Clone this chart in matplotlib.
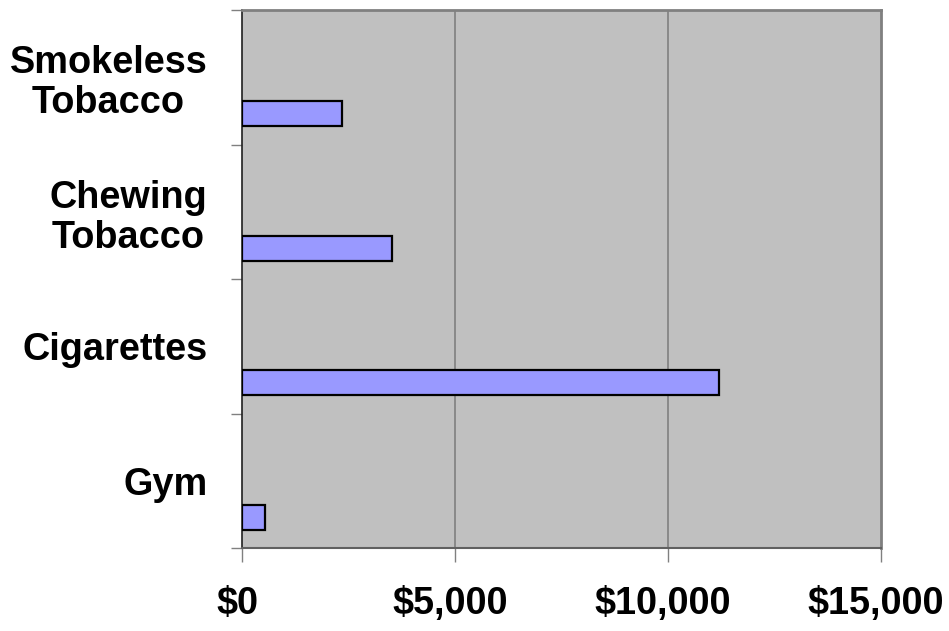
import matplotlib
matplotlib.use("Agg")
import matplotlib.pyplot as plt
import matplotlib.transforms as mtransforms
import numpy as np

categories = ["Gym", "Cigarettes", "Chewing\nTobacco", "Smokeless\nTobacco"]
costs = [540, 11200, 3520, 2350]
x_ticks = [0, 5000, 10000, 15000]
x_tick_labels = ["$0", "$5,000", "$10,000", "$15,000"]

plt.rcParams['font.family'] = ['Liberation Sans', 'DejaVu Sans']

fig = plt.figure(figsize=(9.49, 6.31), dpi=100)
ax = fig.add_axes([242/949, 1 - 548/631, (881-242)/949, (548-10)/631])
ax.set_facecolor('#C0C0C0')

pos = np.arange(len(categories))
ax.barh(pos - 0.273, costs, height=0.186, color='#9999FF', edgecolor='black',
        linewidth=1.6, zorder=3)

ax.set_xlim(0, 15000)
ax.set_ylim(-0.5, len(categories) - 0.5)

ax.set_xticks(x_ticks)
ax.set_xticklabels(x_tick_labels, fontsize=27.3, fontweight='bold')
ax.tick_params(axis='x', which='major', length=10, width=1, color='#808080',
               direction='out', pad=17.5)
shift = mtransforms.ScaledTranslation(-5/100, 0, fig.dpi_scale_trans)
for lbl in ax.get_xticklabels():
    lbl.set_transform(lbl.get_transform() + shift)

ax.set_yticks(np.arange(len(categories) + 1) - 0.5)
ax.set_yticklabels([])
ax.tick_params(axis='y', which='major', length=8, width=1, color='#808080', direction='out')
ax.set_yticks(pos, minor=True)
ax.set_yticklabels(categories, minor=True, fontsize=27.3, fontweight='bold', ha='right',
                   linespacing=1.15, multialignment='center')
ax.tick_params(axis='y', which='minor', length=0, pad=25)

for v in x_ticks[1:-1]:
    ax.axvline(v, color='#808080', linewidth=1.2, zorder=1)

for s in ['top', 'right']:
    ax.spines[s].set_color('#808080')
    ax.spines[s].set_linewidth(2)
ax.spines['left'].set_color('#202020')
ax.spines['left'].set_linewidth(1.2)
ax.spines['bottom'].set_color('#606060')
ax.spines['bottom'].set_linewidth(1.5)

fig.savefig("out.png", dpi=100, facecolor='white')
